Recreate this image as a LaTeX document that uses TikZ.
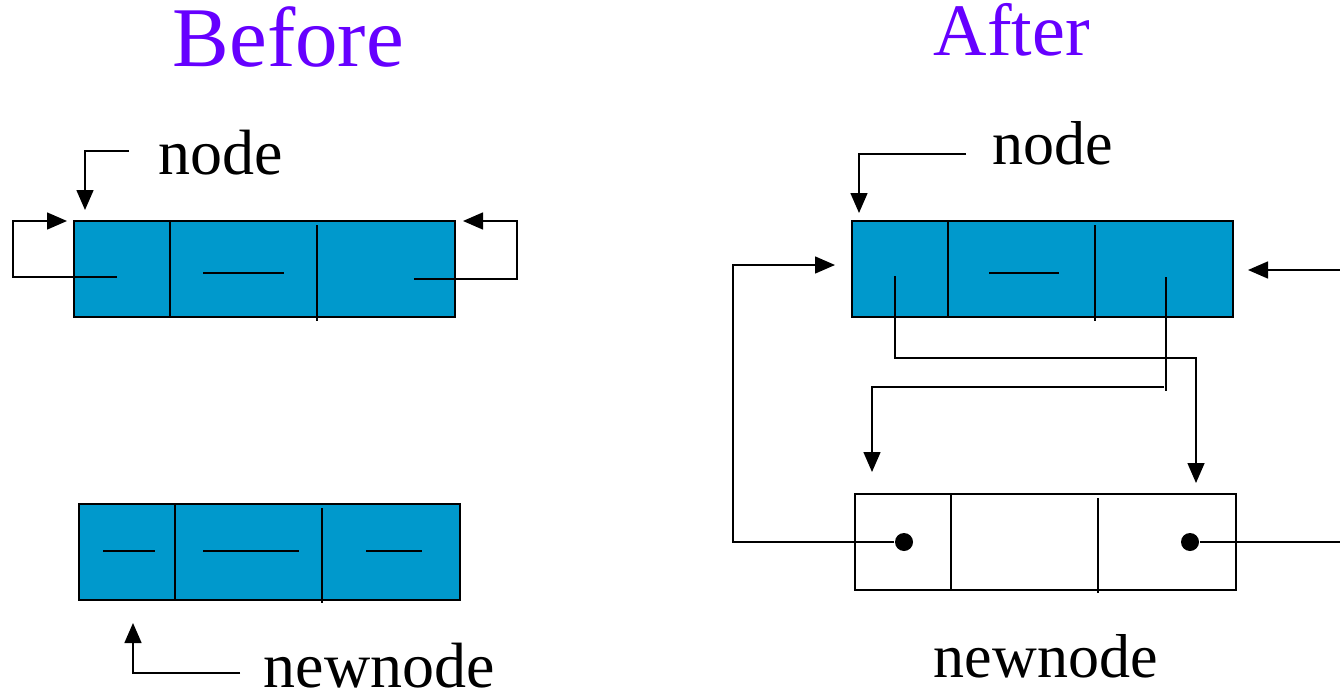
\documentclass[tikz,border=0pt]{standalone}
\usepackage{fontspec}
\setmainfont{Liberation Serif}
\usetikzlibrary{arrows.meta}
\definecolor{boxblue}{HTML}{0099CC}
\definecolor{titlepurple}{HTML}{6600FF}
\begin{document}
\begin{tikzpicture}[x=1bp,y=-1bp,line width=1.5bp,
  cell/.style={draw=black,line width=2bp,inner sep=0pt,minimum width=381bp,minimum height=96bp,fill=boxblue},
  wcell/.style={cell,fill=white},
  ptr/.style={-{Triangle[length=20bp,width=17bp]}},
  lbl/.style={inner sep=0pt,anchor=base west,font=\fontsize{64bp}{76bp}\selectfont},
  lblr/.style={lbl,font=\fontsize{62bp}{74bp}\selectfont},
  ttl/.style={inner sep=0pt,anchor=base west,text=titlepurple},
  dot/.style={circle,fill=black,inner sep=0pt,minimum size=18bp}]
\useasboundingbox (0,0) rectangle (1340,693);
% titles
\node[ttl,font=\fontsize{85bp}{98bp}\selectfont] (before) at (172,67) {Before};
\node[ttl,font=\fontsize{74bp}{86bp}\selectfont] (after) at (933,56) {After};
% ---------- Before ----------
\node[cell] (A) at (264.5,269) {};
\draw (170,221) -- (170,317);
\draw (317,225) -- (317,321);
\draw (203,273) -- (284,273);
\coordinate (Al) at (117,277);
\coordinate (Ar) at (414,279);
\draw[ptr] (Al) -- (13,277) -- (13,221) -- (67,221);
\draw[ptr] (Ar) -- (517,279) -- (517,221) -- (463,221);
\node[lbl] (nodeL) at (158,174) {node};
\draw[ptr] (129,151) -- (85,151) -- (85,210);
\node[cell] (B) at (269.5,552) {};
\draw (175,504) -- (175,600);
\draw (322,508) -- (322,603);
\draw (103,551) -- (155,551);
\draw (203,551) -- (299,551);
\draw (366,551) -- (422,551);
\node[lbl] (newnodeL) at (263,687) {newnode};
\draw[ptr] (240,673) -- (133,673) -- (133,623);
% ---------- After ----------
\node[cell] (C) at (1042.5,269) {};
\draw (948,221) -- (948,317);
\draw (1095,225) -- (1095,321);
\draw (989,273) -- (1059,273);
\node[lblr] (nodeR) at (992,164) {node};
\draw[ptr] (966,154) -- (859,154) -- (859,213);
\coordinate (Cl) at (895,276);
\coordinate (Cr) at (1166,277);
\draw[ptr] (Cl) -- (895,358) -- (1196,358) -- (1196,483);
\draw (Cr) -- (1166,391);
\draw[ptr] (1164,387) -- (872,387) -- (872,472);
\node[wcell] (D) at (1045,542) {};
\draw (951,494) -- (951,590);
\draw (1098,498) -- (1098,593);
\node[dot] (d1) at (904,542) {};
\node[dot] (d2) at (1190,542) {};
\draw[ptr] (d1.west) -- (733,542) -- (733,265) -- (835,265);
\draw (d2.east) -- (1340,542);
\coordinate (inR) at (1340,270);
\draw[ptr] (inR) -- (1248,270);
\node[lblr] (newnodeR) at (933,677) {newnode};
\end{tikzpicture}
\end{document}
